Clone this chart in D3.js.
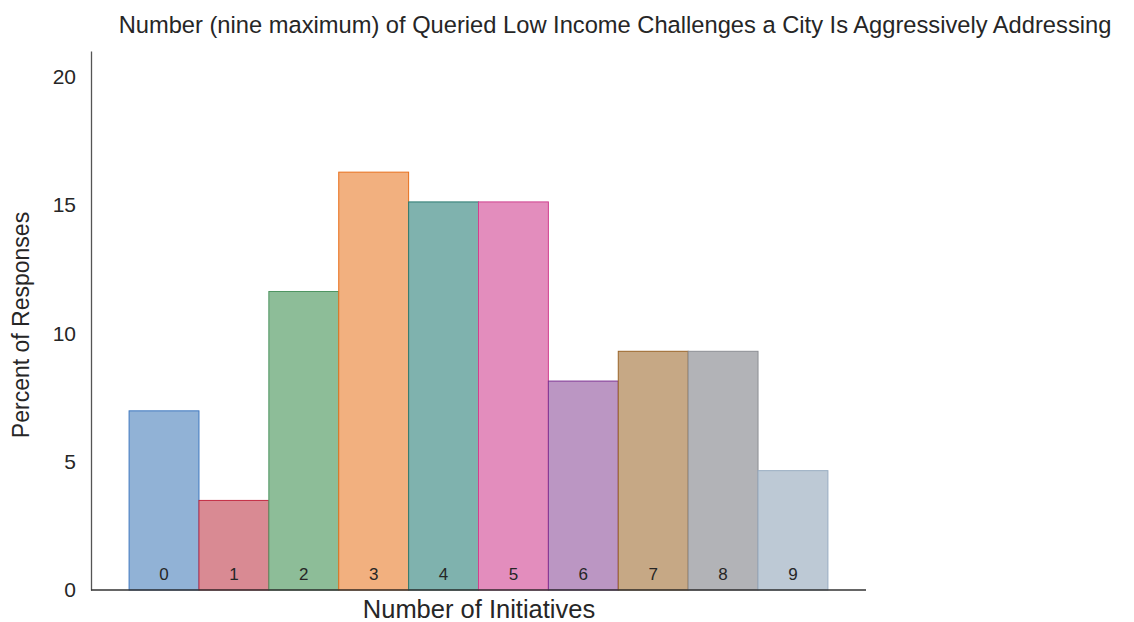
<!DOCTYPE html>
<html>
<head>
<meta charset="utf-8">
<script src="https://cdn.jsdelivr.net/npm/d3@7"></script>
<style>
  body { margin: 0; background: #fff; }
  text { font-family: "Liberation Sans", Arial, sans-serif; }
</style>
</head>
<body>
<div id="chart"></div>
<script>
// initiatives count (0..9) and share of responses in percent
var initiatives = [0, 1, 2, 3, 4, 5, 6, 7, 8, 9];
var percents = [6.98, 3.49, 11.63, 16.28, 15.12, 15.12, 8.14, 9.30, 9.30, 4.65];
var yTicks = [0, 5, 10, 15, 20];

var fills = ["#91b2d6", "#d98a93", "#8dbd98", "#f2b07f", "#7fb2ae",
             "#e38dbd", "#bb96c3", "#c6a885", "#b2b3b7", "#bdc9d5"];
var strokes = ["#3f78c0", "#c22a40", "#4f9562", "#e8701c", "#2b7a70",
               "#d0408e", "#7e3493", "#9a6428", "#8d8f94", "#98acc2"];

var width = 1134, height = 622;

var svg = d3.select("#chart").append("svg")
  .attr("width", width)
  .attr("height", height);

var xScale = d3.scaleLinear()
  .domain([-0.545, 10.545])
  .range([91, 866]);

var yScale = d3.scaleLinear()
  .domain([0, 21])
  .range([590, 51]);

var data = initiatives.map(function(d, i) { return {k: d, v: percents[i]}; });

// bars
svg.selectAll("rect.bar")
  .data(data)
  .enter().append("rect")
  .attr("class", "bar")
  .attr("x", function(d) { return xScale(d.k); })
  .attr("y", function(d) { return yScale(d.v); })
  .attr("width", function(d) { return xScale(d.k + 1) - xScale(d.k); })
  .attr("height", function(d) { return yScale(0) - yScale(d.v); })
  .style("fill", function(d, i) { return fills[i]; })
  .style("stroke", function(d, i) { return strokes[i]; })
  .style("stroke-width", 1);

// labels inside bars
svg.selectAll("text.blabel")
  .data(data)
  .enter().append("text")
  .attr("class", "blabel")
  .attr("x", function(d) { return xScale(d.k + 0.5); })
  .attr("y", yScale(0) - 10)
  .attr("text-anchor", "middle")
  .style("font-size", "17px")
  .style("fill", "#262626")
  .text(function(d) { return d.k; });

// y axis
var yAxis = svg.append("g")
  .attr("transform", "translate(91,0)")
  .call(d3.axisLeft(yScale).tickValues(yTicks).tickSize(0).tickPadding(15));
yAxis.select(".domain").attr("stroke", "#555").attr("stroke-width", 1.3);
yAxis.selectAll("text").style("font-size", "21px").style("fill", "#262626");

// x axis line
svg.append("line")
  .attr("x1", xScale.range()[0]).attr("x2", xScale.range()[1])
  .attr("y1", yScale(0)).attr("y2", yScale(0))
  .attr("stroke", "#333").attr("stroke-width", 1.3);

// title
svg.append("text")
  .attr("x", 615).attr("y", 33)
  .attr("text-anchor", "middle")
  .style("font-size", "23.7px")
  .style("fill", "#262626")
  .text("Number (nine maximum) of Queried Low Income Challenges a City Is Aggressively Addressing");

// axis titles
svg.append("text")
  .attr("x", 479).attr("y", 618)
  .attr("text-anchor", "middle")
  .style("font-size", "25.5px")
  .style("fill", "#262626")
  .text("Number of Initiatives");

svg.append("text")
  .attr("transform", "translate(29,325) rotate(-90)")
  .attr("text-anchor", "middle")
  .style("font-size", "23px")
  .style("fill", "#262626")
  .text("Percent of Responses");
</script>
</body>
</html>
